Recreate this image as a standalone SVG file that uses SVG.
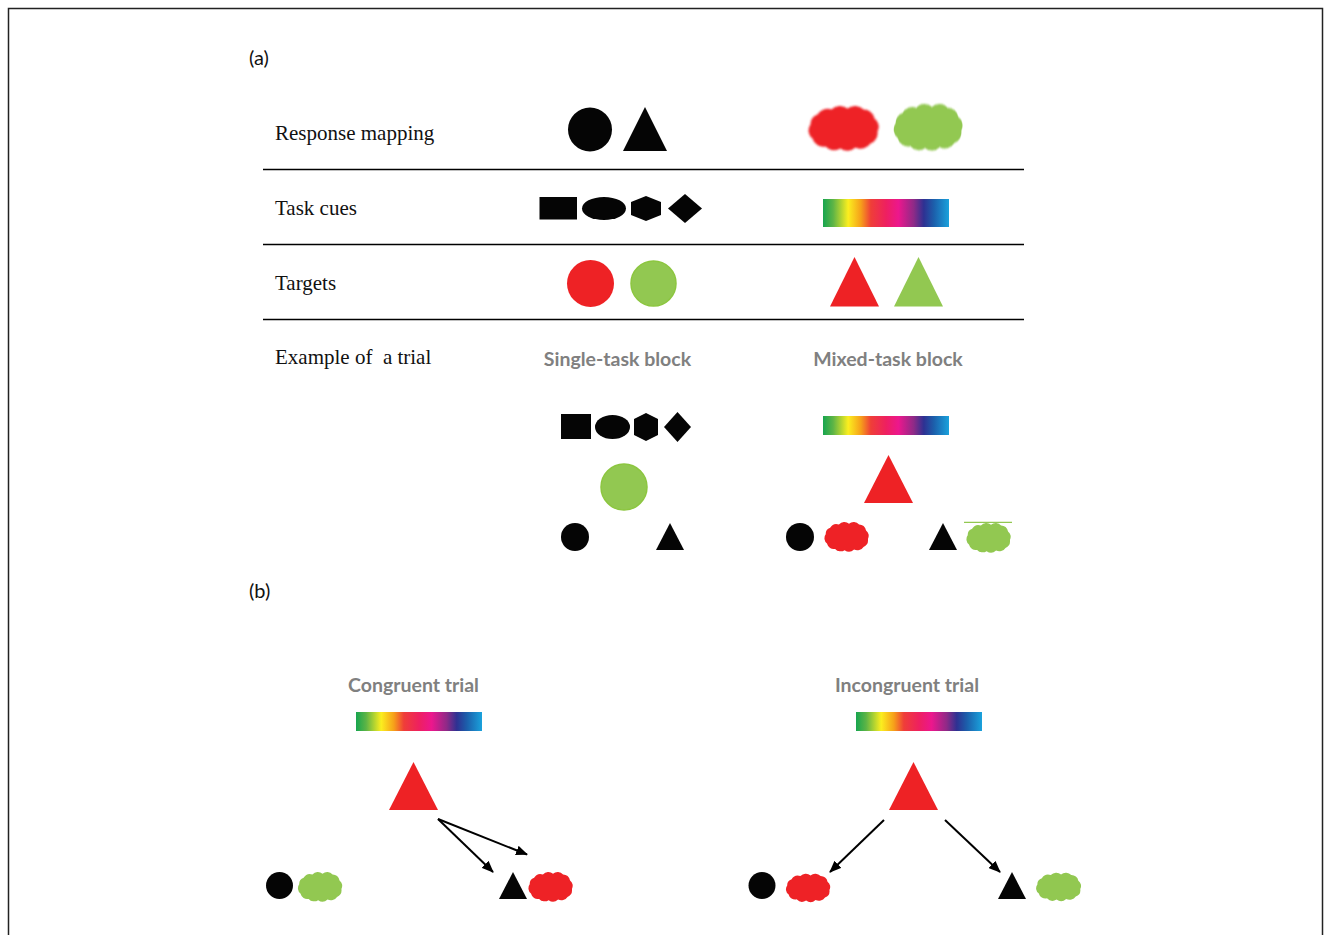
<svg xmlns="http://www.w3.org/2000/svg" width="1325" height="935" viewBox="0 0 1325 935">
  <style>
    .lbl { font-family: "Liberation Serif", "Times New Roman", serif; font-size: 21px; fill: #111; }
    .tag { font-family: Lato, "Liberation Sans", sans-serif; font-size: 20px; fill: #111; }
    .head { font-family: Lato, "Liberation Sans", sans-serif; font-size: 19.5px; font-weight: bold; fill: #808080; text-anchor: middle; }
    .rule { stroke: #000; stroke-width: 1.5; }
    .ink { fill: #050505; }
    .red { fill: #ee2225; }
    .grn { fill: #92c851; }
    .edge { stroke: #000; stroke-width: 2; fill: none; marker-end: url(#arrow); }
  </style>
  <defs>
    <linearGradient id="spectrum" x1="0" y1="0" x2="1" y2="0">
      <stop offset="0" stop-color="#17a54f"/>
      <stop offset="0.08" stop-color="#5db446"/>
      <stop offset="0.2" stop-color="#fbee1f"/>
      <stop offset="0.3" stop-color="#f6a01a"/>
      <stop offset="0.38" stop-color="#ef3e38"/>
      <stop offset="0.5" stop-color="#ee2060"/>
      <stop offset="0.6" stop-color="#ec178d"/>
      <stop offset="0.72" stop-color="#8e2a87"/>
      <stop offset="0.8" stop-color="#2e3192"/>
      <stop offset="0.88" stop-color="#1c5fab"/>
      <stop offset="1" stop-color="#1aa2dc"/>
    </linearGradient>
    <filter id="soft" x="-20%" y="-20%" width="140%" height="140%">
      <feGaussianBlur stdDeviation="0.8"/>
    </filter>
    <!-- irregular lumpy blob, about 72 x 43 around the origin -->
    <path id="cloud" d="M-33,-4 A10 10 0 0 1 -26,-14 A12 12 0 0 1 -12,-19 A12 12 0 0 1 4,-20 A12 12 0 0 1 20,-19 A11 11 0 0 1 31,-10 A10 10 0 0 1 34,3 A11 11 0 0 1 27,15 A12 12 0 0 1 12,19 A12 12 0 0 1 -3,20 A12 12 0 0 1 -18,18 A11 11 0 0 1 -31,10 A10 10 0 0 1 -33,-4 Z"/>
    <marker id="arrow" viewBox="0 0 12 10" refX="11" refY="5" markerWidth="12" markerHeight="10" markerUnits="userSpaceOnUse" orient="auto">
      <path d="M0,0 L12,5 L0,10 z" fill="#000"/>
    </marker>
  </defs>

  <rect x="8.5" y="8.5" width="1314" height="1000" fill="#fff" stroke="#222" stroke-width="1.5"/>

  <!-- panel (a) -->
  <text class="tag" x="249" y="65">(a)</text>

  <g id="table-rules">
    <line class="rule" x1="263" y1="169.5" x2="1024" y2="169.5"/>
    <line class="rule" x1="263" y1="244.5" x2="1024" y2="244.5"/>
    <line class="rule" x1="263" y1="319.5" x2="1024" y2="319.5"/>
  </g>

  <g id="row-labels">
    <text class="lbl" x="275" y="140">Response mapping</text>
    <text class="lbl" x="275" y="215">Task cues</text>
    <text class="lbl" x="275" y="290">Targets</text>
    <text class="lbl" x="275" y="364" xml:space="preserve">Example of  a trial</text>
  </g>

  <g id="response-mapping">
    <circle class="ink" cx="590" cy="129.5" r="22"/>
    <polygon class="ink" points="645,107 667,151 623,151"/>
    <use href="#cloud" class="red" filter="url(#soft)" transform="translate(843.5,128.5) scale(1.0,1.0)"/>
    <use href="#cloud" class="grn" filter="url(#soft)" transform="translate(928,127.5) scale(0.98,1.04)"/>
  </g>

  <g id="task-cues">
    <rect class="ink" x="539.5" y="197" width="37.5" height="22.5"/>
    <ellipse class="ink" cx="604" cy="208.5" rx="22" ry="11.5"/>
    <polygon class="ink" points="646,196 661,202 661,215 646,221 631,215 631,202"/>
    <polygon class="ink" points="685,194 702,208.5 685,223 668,208.5"/>
    <rect x="823" y="199" width="126" height="28" fill="url(#spectrum)"/>
  </g>

  <g id="targets">
    <circle class="red" cx="590.5" cy="283.5" r="23.5"/>
    <circle class="grn" cx="653.5" cy="283.5" r="22.5" stroke="#8cc63f" stroke-width="1.5"/>
    <polygon class="red" points="854.5,257 879,306.5 830,306.5"/>
    <polygon class="grn" points="918.5,257 943,306.5 894,306.5"/>
  </g>

  <g id="single-task-block">
    <text class="head" x="617.5" y="366">Single-task block</text>
    <rect class="ink" x="561" y="414" width="30" height="25"/>
    <ellipse class="ink" cx="612.5" cy="427" rx="17.5" ry="12"/>
    <polygon class="ink" points="646,413 658,419 658,435 646,441 634,435 634,419"/>
    <polygon class="ink" points="677.5,412 691,427 677.5,442 664,427"/>
    <circle class="grn" cx="624" cy="487" r="23" stroke="#8cc63f" stroke-width="1.5"/>
    <circle class="ink" cx="575" cy="537" r="14"/>
    <polygon class="ink" points="670,523 684,550 656,550"/>
  </g>

  <g id="mixed-task-block">
    <text class="head" x="888" y="366">Mixed-task block</text>
    <rect x="823" y="416" width="126" height="19" fill="url(#spectrum)"/>
    <polygon class="red" points="888.5,455 913,503 864,503"/>
    <circle class="ink" cx="800" cy="537" r="14"/>
    <use href="#cloud" class="red" filter="url(#soft)" transform="translate(846.5,537) scale(0.63,0.66)"/>
    <polygon class="ink" points="943,523 957,550 929,550"/>
    <line x1="964" y1="522.3" x2="1012" y2="522.3" stroke="#92c851" stroke-width="1.2"/>
    <use href="#cloud" class="grn" filter="url(#soft)" transform="translate(988.5,538) scale(0.63,0.66)"/>
  </g>

  <!-- panel (b) -->
  <text class="tag" x="249" y="598">(b)</text>

  <g id="congruent-trial">
    <text class="head" x="413.5" y="692">Congruent trial</text>
    <rect x="356" y="712" width="126" height="19" fill="url(#spectrum)"/>
    <polygon id="congruent-target" class="red" points="413.5,762 438,810 389,810"/>
    <circle class="ink" cx="279.5" cy="885.5" r="13.5"/>
    <use href="#cloud" class="grn" filter="url(#soft)" transform="translate(320,887) scale(0.63,0.66)"/>
    <polygon class="ink" points="513,872 527,899 499,899"/>
    <use href="#cloud" class="red" filter="url(#soft)" transform="translate(550.5,887) scale(0.63,0.66)"/>
  </g>

  <g id="incongruent-trial">
    <text class="head" x="907" y="692">Incongruent trial</text>
    <rect x="856" y="712" width="126" height="19" fill="url(#spectrum)"/>
    <polygon id="incongruent-target" class="red" points="913.5,762 938,810 889,810"/>
    <circle class="ink" cx="762" cy="885.5" r="13.5"/>
    <use href="#cloud" class="red" filter="url(#soft)" transform="translate(808,888) scale(0.63,0.63)"/>
    <polygon class="ink" points="1012,872 1026,899 998,899"/>
    <use href="#cloud" class="grn" filter="url(#soft)" transform="translate(1058.5,887) scale(0.64,0.63)"/>
  </g>

  <g id="connectors">
    <line class="edge" x1="438" y1="819" x2="493" y2="872"/>
    <line class="edge" x1="438" y1="819" x2="527" y2="854.5"/>
    <line class="edge" x1="884" y1="820" x2="830" y2="872"/>
    <line class="edge" x1="945" y1="820" x2="1000" y2="872"/>
  </g>
</svg>
